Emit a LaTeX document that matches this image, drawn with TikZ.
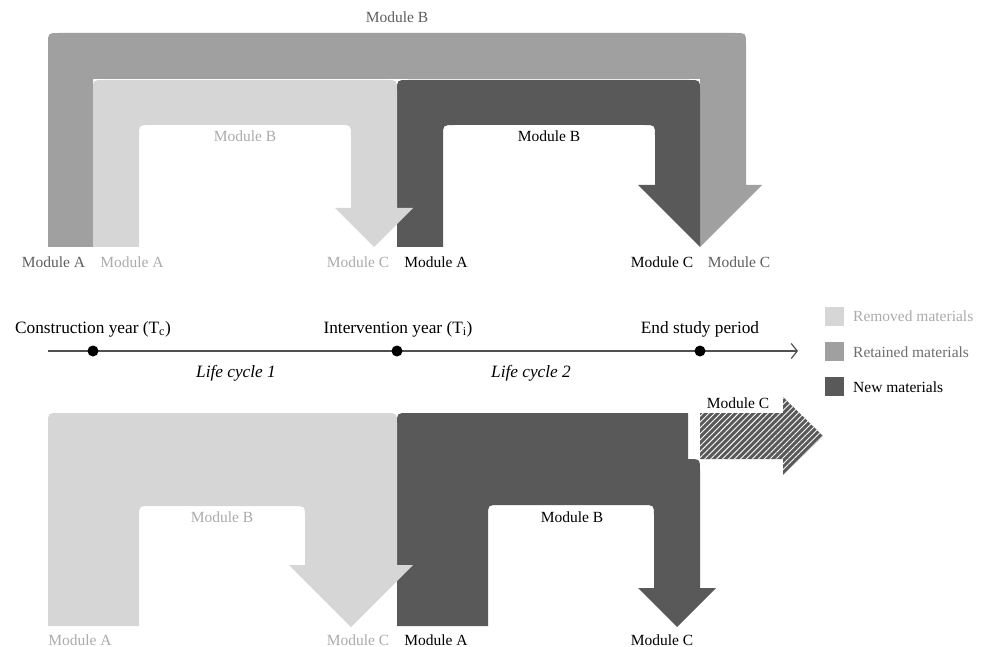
\documentclass[tikz,border=0pt]{standalone}
\usepackage{fontspec}
\setmainfont{Liberation Serif}
\usetikzlibrary{arrows.meta,patterns.meta}
\definecolor{remc}{HTML}{D6D6D6}
\definecolor{retc}{HTML}{A0A0A0}
\definecolor{newc}{HTML}{595959}
\definecolor{remt}{HTML}{ABABAB}
\definecolor{rett}{HTML}{5E5E5E}
\definecolor{legret}{HTML}{6E6E6E}
\definecolor{axisc}{HTML}{505050}
\begin{document}
\begin{tikzpicture}[x=1pt,y=-1pt,
  lab/.style={font=\fontsize{15.5}{18}\selectfont, inner sep=0pt, anchor=base},
  remlab/.style={lab, text=remt},
  retlab/.style={lab, text=rett},
  newlab/.style={lab, text=black},
  biglab/.style={font=\fontsize{17.3}{20}\selectfont, inner sep=0pt, anchor=base},
  dotn/.style={circle, fill=black, inner sep=0pt, minimum size=11pt},
  legsq/.style={rectangle, inner sep=0pt, minimum width=19pt, minimum height=19pt},
  leglab/.style={lab, anchor=base west}]
\useasboundingbox (0,0) rectangle (988,647);

% ---------------- top section ----------------
% retained (grey) arrow
\fill[retc] (48,247) -- (48,44) .. controls (48,33) .. (59,33) -- (735,33) .. controls (746,33) .. (746,44)
  -- (746,185) -- (762,185) -- (700,247) -- (700,79) -- (93,79) -- (93,247) -- cycle;
% new (dark) arrow
\fill[newc] (397,247) -- (397,91) .. controls (397,80) .. (408,80) -- (689,80) .. controls (700,80) .. (700,91)
  -- (700,247) -- (638,185) -- (655,185) -- (655,136) .. controls (655,125) .. (644,125)
  -- (454,125) .. controls (443,125) .. (443,136) -- (443,247) -- cycle;
% removed (light) arrow
\fill[remc] (93,247) -- (93,91) .. controls (93,80) .. (104,80) -- (386,80) .. controls (397,80) .. (397,91)
  -- (397,208) -- (413,208) -- (374,247) -- (335,208) -- (351,208) -- (351,136) .. controls (351,125) .. (340,125)
  -- (150,125) .. controls (139,125) .. (139,136) -- (139,247) -- cycle;

\node[retlab] (tB) at (397,23) {Module B};
\node[remlab] (tBl) at (245,142) {Module B};
\node[newlab] (tBn) at (549,142) {Module B};
\node[retlab] (tA1) at (53.5,267) {Module A};
\node[remlab] (tA2) at (132,267) {Module A};
\node[remlab] (tC1) at (358,267) {Module C};
\node[newlab] (tA3) at (436,267) {Module A};
\node[newlab] (tC2) at (662,267) {Module C};
\node[retlab] (tC3) at (739,267) {Module C};

% ---------------- time line ----------------
\coordinate (ax0) at (48,351);
\coordinate (ax1) at (798,351);
\draw[axisc, line width=1.2pt, -{Straight Barb[length=6pt,width=15pt,line width=1.2pt]}] (ax0) -- (ax1);
\node[dotn] (d1) at (93,351) {};
\node[dotn] (d2) at (397,351) {};
\node[dotn] (d3) at (700,351) {};
\node[biglab] (l1) at (93,333) {Construction year (T\textsubscript{c})};
\node[biglab] (l2) at (398,333) {Intervention year (T\textsubscript{i})};
\node[biglab] (l3) at (700,333) {End study period};
\node[biglab, font=\fontsize{17.3}{20}\selectfont\itshape] (lc1) at (236,377) {Life cycle 1};
\node[biglab, font=\fontsize{17.3}{20}\selectfont\itshape] (lc2) at (531,377) {Life cycle 2};

% ---------------- legend ----------------
\node[legsq, fill=remc] (s1) at (834.5,316) {};
\node[legsq, fill=retc] (s2) at (834.5,351) {};
\node[legsq, fill=newc] (s3) at (834.5,386.5) {};
\node[leglab, text=remt] (g1) at (853,321) {Removed materials};
\node[leglab, text=legret] (g2) at (853,357) {Retained materials};
\node[leglab, text=black] (g3) at (853,392) {New materials};

% ---------------- bottom section ----------------
% new (dark) arrow
\fill[newc] (397,626) -- (397,424) .. controls (397,413) .. (408,413) -- (688,413) -- (688,459)
  .. controls (700,459) .. (700,471) -- (700,588) -- (716,588) -- (677,627) -- (638,588)
  -- (654,588) -- (654,516) .. controls (654,505) .. (643,505) -- (499,505) .. controls (488,505) .. (488,516)
  -- (488,626) -- cycle;
% removed (light) arrow
\fill[remc] (48,626) -- (48,424) .. controls (48,413) .. (59,413) -- (386,413) .. controls (397,413) .. (397,424)
  -- (397,565) -- (413,565) -- (351,627) -- (289,565) -- (305,565) -- (305,517) .. controls (305,506) .. (294,506)
  -- (150,506) .. controls (139,506) .. (139,517) -- (139,626) -- cycle;
% hatched arrow
\path[fill=newc, postaction={pattern={Lines[angle=45,distance=4.2pt,line width=0.9pt]}, pattern color=white}]
  (700,413) -- (783,413) -- (783,397) -- (823,436) -- (783,475) -- (783,459) -- (700,459) -- cycle;

\node[newlab] (bCh) at (738,408) {Module C};
\node[remlab] (bBl) at (222,522) {Module B};
\node[newlab] (bBn) at (572,522) {Module B};
\node[remlab] (bA1) at (80,645) {Module A};
\node[remlab] (bC1) at (358,645) {Module C};
\node[newlab] (bA2) at (436,645) {Module A};
\node[newlab] (bC2) at (662,645) {Module C};
\end{tikzpicture}
\end{document}
